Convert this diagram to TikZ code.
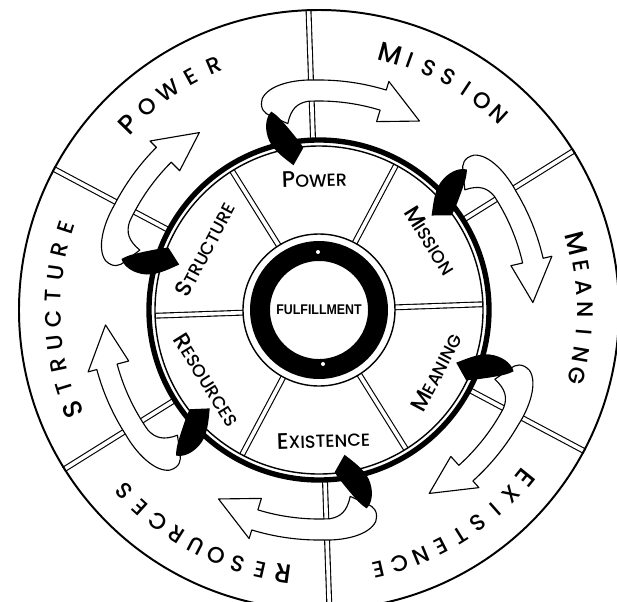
\documentclass[tikz,border=0pt]{standalone}
\usepackage{fontspec}
\setmainfont{Poppins}[UprightFont={* Medium}]
\newfontfamily\hubfont{Liberation Sans}
\newcommand{\capword}[2]{{\fontsize{16}{16}\selectfont #1}#2}
\newcommand{\rimcap}[1]{{\fontsize{19}{19}\selectfont #1}}
\newcommand{\rimword}[5]{%
  \foreach \ch [count=\i] in {#5} {
    \pgfmathsetmacro{\ang}{#2+((#4+1)/2-\i)*#3}
    \node[rimletter, rotate=\ang-90] (#1-\i) at (\ang:266) {\ch};
  }}

\begin{document}
\begin{tikzpicture}[x=0.025cm, y=0.025cm,
  rim/.style={line width=1.4pt},
  spoke/.style={double=white, double distance=2.6pt, line width=0.8pt},
  ribbon/.style={fill=white, draw=black, line width=0.8pt, line join=round},
  twist/.style={fill=black},
  rimletter/.style={inner sep=0pt, font=\fontsize{16}{16}\selectfont},
  hublabel/.style={inner sep=0pt, font=\fontsize{12.5}{12.5}\selectfont}]
  \useasboundingbox (-319,-291) rectangle (298,310);
  \clip (-319,-291) rectangle (298,310);
  % spokes
  \foreach \a in {32,92,...,332}
    \draw[spoke] (\a:170) -- (\a:301);
  \foreach \a in {2,62,...,302}
    \draw[spoke] (\a:76) -- (\a:164);
  % rings and hub
  \draw[rim] (0,0) circle[radius=300];
  \draw[line width=3.8pt] (0,0) circle[radius=170];
  \draw[line width=1pt] (0,0) circle[radius=164];
  \draw[line width=1pt] (0,0) circle[radius=76];
  \draw[line width=14.2pt] (0,0) circle[radius=59];
  \fill[white] (-1,58) circle[radius=2] (4,-54) circle[radius=2];
  \node[font=\hubfont\bfseries\fontsize{10}{10}\selectfont, xscale=0.88] (hub) at (0,0) {FULFILLMENT};
  % outer words
  \rimword{mission}{61}{4.5}{7}{\rimcap{M},I,S,S,I,O,N}
  \rimword{meaning}{0}{4.8}{7}{\rimcap{M},E,A,N,I,N,G}
  \rimword{existence}{-58}{4.75}{9}{\rimcap{E},X,I,S,T,E,N,C,E}
  \rimword{resources}{242.5}{4.9}{9}{\rimcap{R},E,S,O,U,R,C,E,S}
  \rimword{structure}{182}{5}{9}{\rimcap{S},T,R,U,C,T,U,R,E}
  \rimword{power}{124.5}{5.6}{5}{\rimcap{P},O,W,E,R}
  % inner words
  \node[hublabel, rotate=-58] (in-mission) at (32:131) {\capword{M}{ISSION}};
  \node[hublabel, rotate=2] (in-power) at (92:131) {\capword{P}{OWER}};
  \node[hublabel, rotate=62] (in-structure) at (152:129) {\capword{S}{TRUCTURE}};
  \node[hublabel, rotate=-58] (in-resources) at (212:132) {\capword{R}{ESOURCES}};
  \node[hublabel, rotate=2] (in-existence) at (272:130) {\capword{E}{XISTENCE}};
  \node[hublabel, rotate=62] (in-meaning) at (332:133) {\capword{M}{EANING}};
  % twisted ribbons
  \foreach \t in {100,40,-21,-80,-138,162} {
    \begin{scope}[rotate=\t]
      \path[ribbon] (-0.5:189)
        .. controls (-2:203) and (-4:208) .. (-7:209)
        arc[start angle=-7, end angle=-27, radius=209]
        -- (-27:197) -- (-38:214) -- (-27:239) -- (-27:230)
        arc[start angle=-27, end angle=-9, radius=230]
        .. controls (-4:232) and (2.5:231) .. (5:219)
        .. controls (6.5:210) and (5.5:204) .. (4:200) -- cycle;
      \fill[twist] (0:147) .. controls (3.5:158) and (6.5:168) .. (6.5:181)
        .. controls (6.5:193) and (5:201) .. (3.5:204)
        .. controls (1.5:197) and (0.5:189) .. (-0.5:184)
        .. controls (-2:176) and (-3.5:169) .. (-4.5:163) -- cycle;
    \end{scope}
  }
\end{tikzpicture}
\end{document}
